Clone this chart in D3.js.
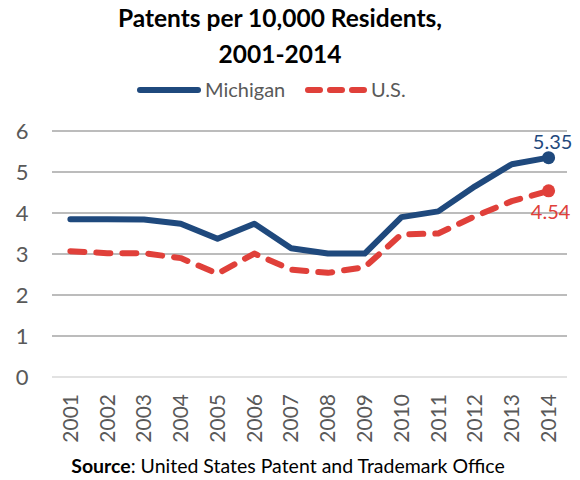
<!DOCTYPE html>
<html>
<head>
<meta charset="utf-8">
<script src="https://cdn.jsdelivr.net/npm/d3@7"></script>
<style>
  body { margin: 0; background: #fff; }
  text { font-family: Lato, "Open Sans", sans-serif; }
</style>
</head>
<body>
<div id="chart"></div>
<script>
var years = ["2001","2002","2003","2004","2005","2006","2007","2008","2009","2010","2011","2012","2013","2014"];
var michigan = [3.85, 3.85, 3.84, 3.74, 3.37, 3.74, 3.14, 3.01, 3.01, 3.90, 4.04, 4.65, 5.19, 5.35];
var us = [3.07, 3.02, 3.02, 2.90, 2.52, 3.01, 2.62, 2.54, 2.68, 3.48, 3.50, 3.92, 4.29, 4.54];
var yTicks = [0, 1, 2, 3, 4, 5, 6];

var W = 580, H = 480;
var margin = {top: 131, right: 13, bottom: 103, left: 52},
    width = W - margin.left - margin.right,
    height = H - margin.top - margin.bottom;

var svg = d3.select("#chart").append("svg")
    .attr("width", W)
    .attr("height", H);

// title
svg.append("text")
  .attr("x", 280).attr("y", 27)
  .attr("text-anchor", "middle")
  .style("font-size", "24.5px").style("font-weight", "bold")
  .text("Patents per 10,000 Residents,");
svg.append("text")
  .attr("x", 280).attr("y", 63)
  .attr("text-anchor", "middle")
  .style("font-size", "24.5px").style("font-weight", "bold")
  .text("2001-2014");

// legend
var leg = svg.append("g");
leg.append("line")
  .attr("x1", 140).attr("x2", 198).attr("y1", 90).attr("y2", 90)
  .attr("stroke", "#1f497d").attr("stroke-width", 6).attr("stroke-linecap", "round");
leg.append("text")
  .attr("x", 205).attr("y", 97)
  .style("font-size", "20px").attr("fill", "#595959")
  .text("Michigan");
leg.append("line")
  .attr("x1", 308).attr("x2", 366).attr("y1", 90).attr("y2", 90)
  .attr("stroke", "#e0403a").attr("stroke-width", 6).attr("stroke-linecap", "round")
  .attr("stroke-dasharray", "12,10");
leg.append("text")
  .attr("x", 371).attr("y", 97)
  .style("font-size", "20px").attr("fill", "#595959")
  .text("U.S.");

var g = svg.append("g")
  .attr("transform", "translate(" + margin.left + "," + margin.top + ")");

var x = d3.scaleBand()
  .range([0, width])
  .domain(years);

var y = d3.scaleLinear()
  .domain([0, 6])
  .range([height, 0]);

// gridlines
g.selectAll(".grid")
  .data(yTicks)
  .enter()
  .append("line")
    .attr("x1", 0).attr("x2", width)
    .attr("y1", function(d) { return y(d); })
    .attr("y2", function(d) { return y(d); })
    .attr("stroke", function(d) { return d === 0 ? "#d9d9d9" : "#a6a6a6"; })
    .attr("stroke-width", 1.5);

// y axis labels
var yAxis = g.append("g")
  .call(d3.axisLeft(y).tickValues(yTicks).tickFormat(d3.format("d")).tickSize(0).tickPadding(30));
yAxis.select(".domain").remove();
yAxis.selectAll("text")
  .style("font-size", "22px")
  .style("font-family", "Lato, 'Open Sans', sans-serif")
  .attr("fill", "#595959")
  .attr("text-anchor", "middle");

// x axis labels
var xAxis = g.append("g")
  .attr("transform", "translate(0," + height + ")")
  .call(d3.axisBottom(x).tickSize(0));
xAxis.select(".domain").remove();
xAxis.selectAll("text")
  .style("font-size", "21px")
  .style("font-family", "Lato, 'Open Sans', sans-serif")
  .attr("fill", "#595959")
  .attr("transform", "rotate(-90)")
  .attr("x", -17).attr("y", 0).attr("dy", "0.35em")
  .style("text-anchor", "end");

var line = d3.line()
  .x(function(d, i) { return x(years[i]) + x.bandwidth() / 2; })
  .y(function(d) { return y(d); });

g.append("path")
  .datum(us)
  .attr("d", line)
  .attr("fill", "none")
  .attr("stroke", "#e0403a")
  .attr("stroke-width", 6)
  .attr("stroke-linecap", "round")
  .attr("stroke-linejoin", "round")
  .attr("stroke-dasharray", "14,12");

g.append("path")
  .datum(michigan)
  .attr("d", line)
  .attr("fill", "none")
  .attr("stroke", "#1f497d")
  .attr("stroke-width", 6)
  .attr("stroke-linecap", "round")
  .attr("stroke-linejoin", "round");

var last = years.length - 1;
var lx = x(years[last]) + x.bandwidth() / 2;

g.append("circle")
  .attr("cx", lx).attr("cy", y(us[last])).attr("r", 6.5)
  .attr("fill", "#e0403a");
g.append("circle")
  .attr("cx", lx).attr("cy", y(michigan[last])).attr("r", 6.5)
  .attr("fill", "#1f497d");

g.append("text")
  .attr("x", lx + 4).attr("y", y(michigan[last]) - 9)
  .attr("text-anchor", "middle")
  .style("font-size", "20px").attr("fill", "#1f497d")
  .text(d3.format(".2f")(michigan[last]));
g.append("text")
  .attr("x", lx + 2).attr("y", y(us[last]) + 28.5)
  .attr("text-anchor", "middle")
  .style("font-size", "20px").attr("fill", "#e0403a")
  .text(d3.format(".2f")(us[last]));

// source
var src = svg.append("text")
  .attr("x", 288).attr("y", 473)
  .attr("text-anchor", "middle")
  .style("font-size", "19.5px").attr("fill", "#000");
src.append("tspan").style("font-weight", "bold").text("Source");
src.append("tspan").text(": United States Patent and Trademark Office");
</script>
</body>
</html>
